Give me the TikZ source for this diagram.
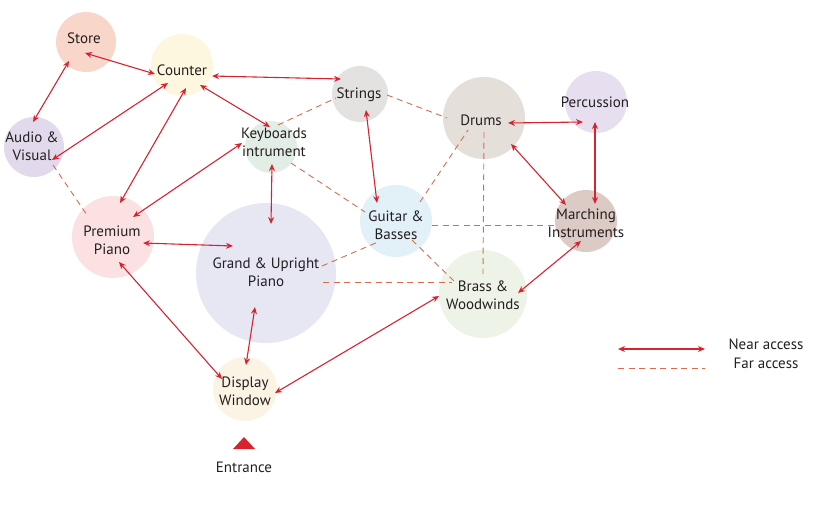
\documentclass[tikz,border=0pt]{standalone}
\usepackage{fontspec}
\setmainfont{PT Sans}
\usetikzlibrary{arrows.meta,calc}
\definecolor{nearred}{HTML}{D8232F}
\definecolor{farred}{HTML}{D96A4E}
\definecolor{txt}{HTML}{231F20}
\definecolor{cStore}{HTML}{F9D6CA}
\definecolor{cCounter}{HTML}{FEF7DF}
\definecolor{cAudio}{HTML}{E2DAEC}
\definecolor{cStrings}{HTML}{E4E2E1}
\definecolor{cDrums}{HTML}{E5DFDA}
\definecolor{cPerc}{HTML}{E7DFF0}
\definecolor{cKeys}{HTML}{E2EDE5}
\definecolor{cPrem}{HTML}{FBE1E1}
\definecolor{cGrand}{HTML}{E7E6F3}
\definecolor{cGuitar}{HTML}{E2F0F8}
\definecolor{cMarch}{HTML}{DCCBC4}
\definecolor{cBrass}{HTML}{EEF3E7}
\definecolor{cDisplay}{HTML}{FBF4E4}
\begin{document}
\begin{tikzpicture}[x=1pt,y=-1pt,
  zone/.style={circle,draw=none,inner sep=0pt},
  lbl/.style={align=center,font=\fontsize{15}{18}\selectfont,text=txt,inner sep=0pt},
  nearacc/.style={draw=nearred,line width=1.1pt,{Stealth[length=7pt,width=6pt]}-{Stealth[length=7pt,width=6pt]}},
  faracc/.style={draw=farred,line width=0.9pt,dash pattern=on 6pt off 4.5pt}]
\useasboundingbox (0,0) rectangle (816,512);
% zones
\node[zone,fill=cStore,minimum size=60pt] (zstore) at (86,42) {};
\node[zone,fill=cCounter,minimum size=62pt] (zcounter) at (182,65) {};
\node[zone,fill=cAudio,minimum size=60pt] (zaudio) at (34,147) {};
\node[zone,fill=cStrings,minimum size=56pt] (zstrings) at (360,94) {};
\node[zone,fill=cDrums,minimum size=82pt] (zdrums) at (484,118) {};
\node[zone,fill=cPerc,minimum size=62pt] (zperc) at (596,102) {};
\node[zone,fill=cKeys,minimum size=52pt] (zkeys) at (271,147) {};
\node[zone,fill=cPrem,minimum size=82pt] (zprem) at (113,237) {};
\node[zone,fill=cGrand,minimum size=140pt] (zgrand) at (266,273) {};
\node[zone,fill=cGuitar,minimum size=72pt] (zguitar) at (396,221) {};
\node[zone,fill=cMarch,minimum size=62pt] (zmarch) at (586,221) {};
\node[zone,fill=cBrass,minimum size=88pt] (zbrass) at (483,294) {};
\node[zone,fill=cDisplay,minimum size=64pt] (zdisplay) at (245,389) {};
% far access
\draw[faracc] ($(zaudio)+(19,18)$) -- ($(zprem)+(-26,-22)$);
\draw[faracc] ($(zkeys)+(7,-22)$) -- ($(zstrings)+(-24,4)$);
\draw[faracc] ($(zstrings)+(27,1)$) -- ($(zdrums)+(-37,0)$);
\draw[faracc] ($(zkeys)+(20,16)$) -- ($(zguitar)+(-31,-9)$);
\draw[faracc] ($(zguitar)+(24,-19)$) -- ($(zdrums)+(-16,12)$);
\draw[faracc] ($(zguitar)+(36,4)$) -- ($(zmarch)+(-29,4)$);
\draw[faracc] ($(zdrums)+(0,14)$) -- ($(zbrass)+(0,-20)$);
\draw[faracc] ($(zguitar)+(16,19)$) -- ($(zbrass)+(-28,-12)$);
\draw[faracc] ($(zgrand)+(56,-7)$) -- ($(zguitar)+(-18,21)$);
\draw[faracc] ($(zgrand)+(57,9)$) -- ($(zbrass)+(-31,-12)$);
% near access
\draw[nearacc] ($(zstore)+(-1,11)$) -- ($(zcounter)+(-27,9)$);
\draw[nearacc] ($(zstore)+(-17,19)$) -- ($(zaudio)+(-1,-25)$);
\draw[nearacc] ($(zcounter)+(-14,18)$) -- ($(zaudio)+(18,13)$);
\draw[nearacc] ($(zcounter)+(4,23)$) -- ($(zprem)+(7,-34)$);
\draw[nearacc] ($(zcounter)+(18,20)$) -- ($(zkeys)+(-1,-20)$);
\draw[nearacc] ($(zcounter)+(30,11)$) -- ($(zstrings)+(-19,-15)$);
\draw[nearacc] ($(zkeys)+(-29,-4)$) -- ($(zprem)+(20,-20)$);
\draw[nearacc] ($(zkeys)+(1,17)$) -- ($(zgrand)+(5,-49)$);
\draw[nearacc] ($(zprem)+(30,6)$) -- ($(zgrand)+(-33,-27)$);
\draw[nearacc] ($(zprem)+(6,25)$) -- ($(zdisplay)+(-23,-10)$);
\draw[nearacc] ($(zgrand)+(-11,34)$) -- ($(zdisplay)+(1,-24)$);
\draw[nearacc] ($(zdisplay)+(30,4)$) -- ($(zbrass)+(-44,2)$);
\draw[nearacc] ($(zstrings)+(6,16)$) -- ($(zguitar)+(-19,-18)$);
\draw[nearacc] ($(zdrums)+(24,5)$) -- ($(zperc)+(-13,20)$);
\draw[nearacc] ($(zdrums)+(27,26)$) -- ($(zmarch)+(-20,-16)$);
\draw[nearacc] ($(zperc)+(-1,20)$) -- ($(zmarch)+(9,-17)$);
\draw[nearacc] ($(zmarch)+(-5,20)$) -- ($(zbrass)+(35,-1)$);
% labels
\node[lbl] (store) at (84,38) {Store};
\node[lbl] (counter) at (182,70) {Counter};
\node[lbl] (audio) at (32,146) {Audio \&\\Visual};
\node[lbl] (strings) at (359,95) {Strings};
\node[lbl] (drums) at (481,120) {Drums};
\node[lbl] (perc) at (595,102) {Percussion};
\node[lbl] (keys) at (274,142) {Keyboards\\intrument};
\node[lbl] (prem) at (112,240) {Premium\\Piano};
\node[lbl] (grand) at (266,272) {Grand \& Upright\\Piano};
\node[lbl] (guitar) at (396,225) {Guitar \&\\Basses};
\node[lbl] (march) at (586,223) {Marching\\Instruments};
\node[lbl] (brass) at (483,295) {Brass \&\\Woodwinds};
\node[lbl] (display) at (245,391) {Display\\Window};
\fill[nearred] (233,449) -- (244,437) -- (255,449) -- cycle;
\node[lbl] (entrance) at (244,467) {Entrance};
% legend
\coordinate (na) at (618,349);
\coordinate (nb) at (705,349);
\coordinate (fa) at (618,368);
\coordinate (fb) at (705,368);
\draw[nearacc] (na) -- (nb);
\draw[faracc] (fa) -- (fb);
\node[lbl] (nearlbl) at (766,344) {Near access};
\node[lbl] (farlbl) at (766,363) {Far access};
\end{tikzpicture}
\end{document}
